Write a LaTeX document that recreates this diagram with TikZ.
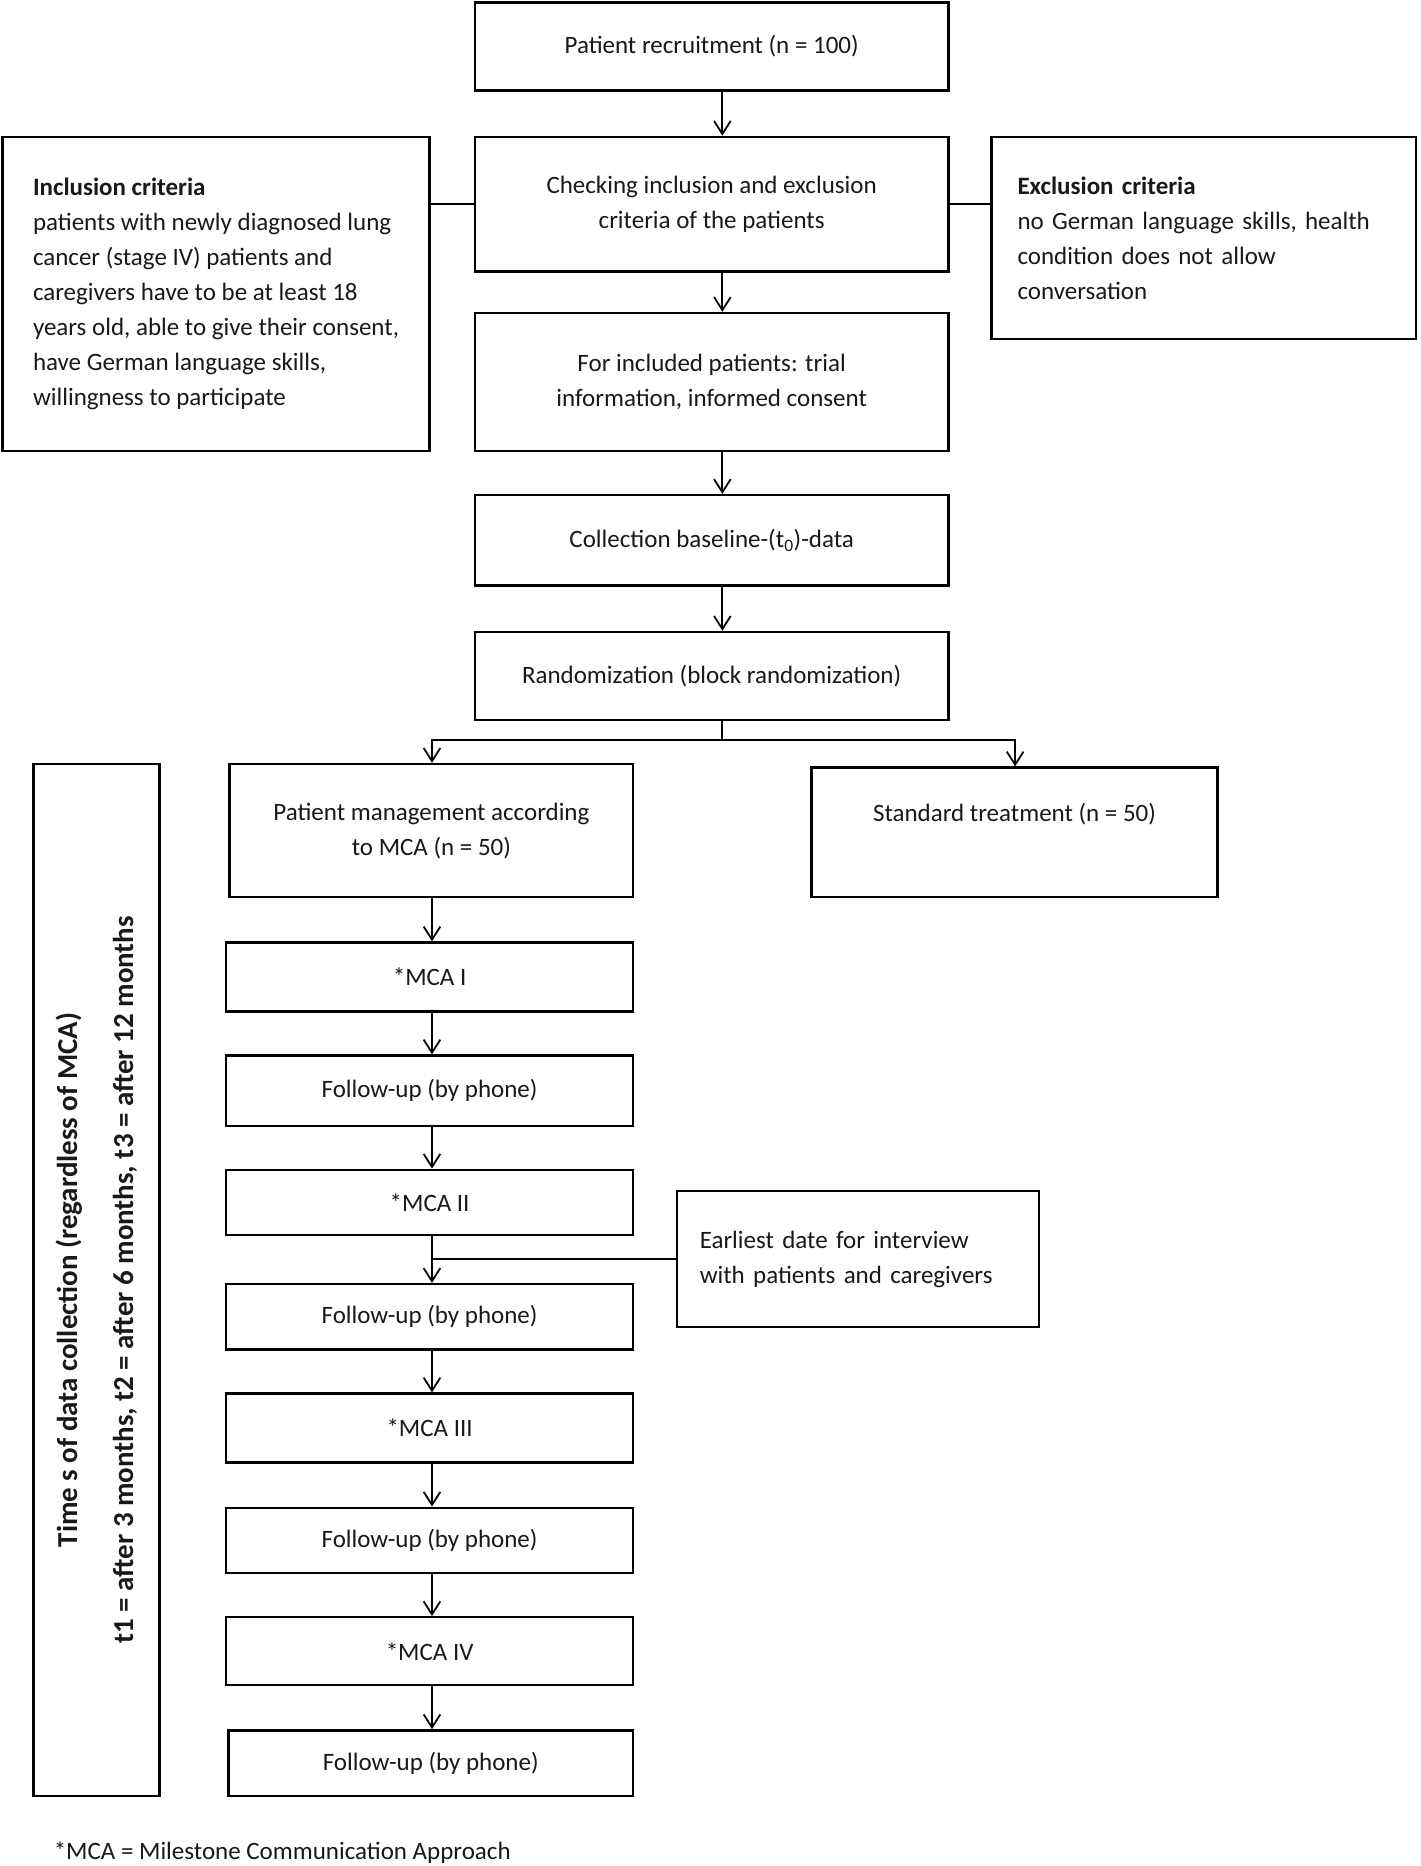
\documentclass[tikz,border=0pt]{standalone}
\usepackage{fontspec}
\setmainfont{Carlito}
\usetikzlibrary{arrows.meta,calc}
\begin{document}
\begin{tikzpicture}[x=1pt,y=-1pt]
\tikzset{
 box/.style={draw=black, line width=2pt, inner sep=4pt, align=center, font=\fontsize{21}{29.5}\selectfont, text=black!90},
 lbox/.style={box, align=left},
 conn/.style={line width=1.5pt},
 arr/.style={conn, -{Straight Barb[length=11pt,width=14pt,line width=1.5pt]}},
}
\useasboundingbox[fill=white] (0,0) rectangle (1194,1568);
% top column
\node[box, minimum width=398pt, minimum height=74pt] (b1) at (598,39) {Patient recruitment (n = 100)};
\node[box, minimum width=398pt, minimum height=113pt] (b2) at (598,171.5) {Checking inclusion and exclusion\\criteria of the patients};
\node[lbox, minimum width=359pt, minimum height=264pt, inner xsep=17pt] (inc) at (181.5,247) {\textbf{Inclusion criteria}\\patients with newly diagnosed lung\\cancer (stage IV) patients and\\caregivers have to be at least 18\\years old, able to give their consent,\\have German language skills,\\willingness to participate};
\node[lbox, minimum width=357pt, minimum height=170pt, text width=313pt, inner xsep=22pt] (exc) at (1011.5,200) {\textbf{Exclusion criteria}\\no German language skills, health\\condition does not allow\\conversation};
\node[box, minimum width=398pt, minimum height=116pt] (b3) at (598,321) {For included patients: trial\\information, informed consent};
\node[box, minimum width=398pt, minimum height=76pt] (b4) at (598,454) {Collection baseline-(t\textsubscript{0})-data};
\node[box, minimum width=398pt, minimum height=74pt] (b5) at (598,568) {Randomization (block randomization)};
% arms
\node[box, minimum width=339pt, minimum height=112pt] (b6) at (362.5,698) {Patient management according\\to MCA (n = 50)};
\node[box, minimum width=341pt, inner ysep=4pt, text height=41pt, text depth=60pt] (b7) at (852.5,699.5) {Standard treatment (n = 50)};
% vertical box
\node[box, rotate=90, minimum width=867pt, minimum height=106pt, font=\bfseries\fontsize{24.3}{47}\selectfont] (vb) at (81,1075.5) {Time s of data collection (regardless of MCA)\\t1 = after 3 months, t2 = after 6 months, t3 = after 12 months};
% MCA column
\node[box, minimum width=342pt, minimum height=58pt] (m1) at (361,821) {*MCA I};
\node[box, minimum width=342pt, minimum height=59pt] (f1) at (361,916.5) {Follow-up (by phone)};
\node[box, minimum width=342pt, minimum height=55pt] (m2) at (361,1010.5) {*MCA II};
\node[box, minimum width=342pt, minimum height=55pt] (f2) at (361,1106.5) {Follow-up (by phone)};
\node[box, minimum width=342pt, minimum height=58pt] (m3) at (361,1200) {*MCA III};
\node[box, minimum width=342pt, minimum height=55pt] (f3) at (361,1294.5) {Follow-up (by phone)};
\node[box, minimum width=342pt, minimum height=57pt] (m4) at (361,1387.5) {*MCA IV};
\node[box, minimum width=340pt, minimum height=55pt] (f4) at (362,1481.5) {Follow-up (by phone)};
\node[lbox, minimum width=304pt, minimum height=114pt, text width=266pt, inner xsep=19pt] (iv) at (721,1058) {Earliest date for interview\\with patients and caregivers};
% footnote
\node[anchor=west, inner sep=0pt, font=\fontsize{21}{24}\selectfont, text=black!90] (fn) at (45,1557) {*MCA = Milestone Communication Approach};
% connectors
\coordinate (ax) at (607,0);
\coordinate (cx) at (363,0);
\coordinate (rx) at (853,0);
\coordinate (split) at (607,622);
\draw[arr] (b1.south -| ax) -- (b2.north -| ax);
\draw[conn] (b2.west) -- (b2.west -| inc.east);
\draw[conn] (b2.east) -- (b2.east -| exc.west);
\draw[arr] (b2.south -| ax) -- (b3.north -| ax);
\draw[arr] (b3.south -| ax) -- (b4.north -| ax);
\draw[arr] (b4.south -| ax) -- (b5.north -| ax);
\draw[conn] (b5.south -| ax) -- (split);
\draw[arr] (split) -| (b6.north -| cx);
\draw[arr] (split) -| (b7.north -| rx);
\draw[arr] (b6.south -| cx) -- (m1.north -| cx);
\draw[arr] (m1.south -| cx) -- (f1.north -| cx);
\draw[arr] (f1.south -| cx) -- (m2.north -| cx);
\draw[arr] (m2.south -| cx) -- (f2.north -| cx);
\draw[arr] (f2.south -| cx) -- (m3.north -| cx);
\draw[arr] (m3.south -| cx) -- (f3.north -| cx);
\draw[arr] (f3.south -| cx) -- (m4.north -| cx);
\draw[arr] (m4.south -| cx) -- (f4.north -| cx);
\draw[conn] (iv.west) -- (iv.west -| cx);
\end{tikzpicture}
\end{document}
